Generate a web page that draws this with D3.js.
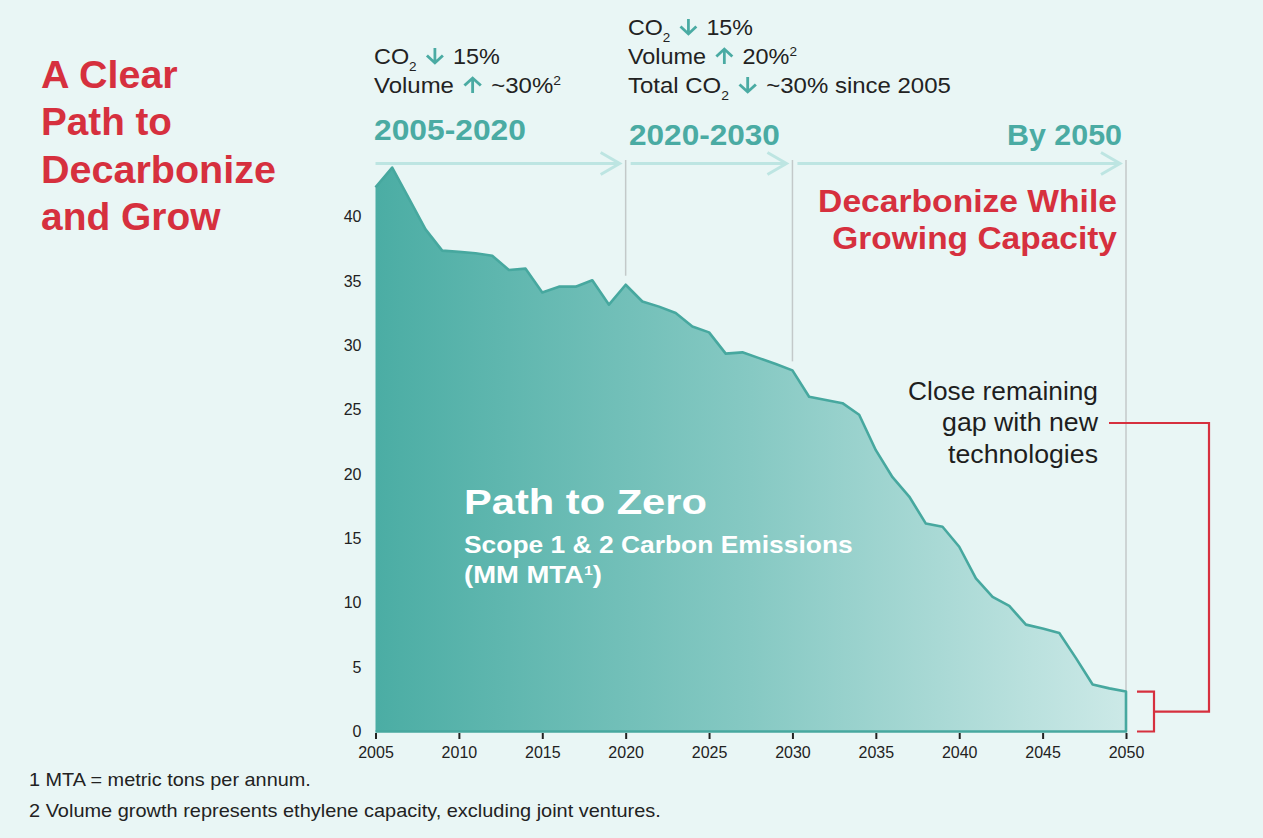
<!DOCTYPE html>
<html><head><meta charset="utf-8">
<script src="https://cdn.jsdelivr.net/npm/d3@7/dist/d3.min.js"></script>
<style>
html,body{margin:0;padding:0;background:#e9f6f5;}
svg{display:block;font-family:"Liberation Sans",Arial,Helvetica,sans-serif;}
</style></head><body>
<svg id="c" width="1263" height="838"></svg>
<script>
// ---- data ----
const years = [2005,2006,2007,2008,2009,2010,2011,2012,2013,2014,2015,2016,2017,2018,2019,
  2020,2021,2022,2023,2024,2025,2026,2027,2028,2029,2030,2031,2032,2033,2034,2035,2036,2037,
  2038,2039,2040,2041,2042,2043,2044,2045,2046,2047,2048,2049,2050];
const emissions = [42.26,43.8,41.4,39.0,37.35,37.25,37.15,36.95,35.85,35.95,34.1,34.55,34.55,35.05,33.15,
  34.7,33.4,33.0,32.5,31.45,31.0,29.35,29.45,29.0,28.55,28.05,26.0,25.75,25.5,24.6,21.85,19.75,18.25,
  16.15,15.9,14.35,11.9,10.45,9.75,8.3,8.0,7.65,5.7,3.65,3.35,3.1];
const xTicks = [2005,2010,2015,2020,2025,2030,2035,2040,2045,2050];
const yTicks = [0,5,10,15,20,25,30,35,40];
const phaseLabels = ["2005-2020","2020-2030","By 2050"];
const phaseStart = [2005,2020,2030];
const phaseEnd = [2020,2030,2050];
const markerYears = [2020,2030,2050];

const TEAL = "#4aaba3", RED = "#d6303e", DARK = "#222";
const svg = d3.select("#c");
svg.append("rect").attr("width",1263).attr("height",838).attr("fill","#e9f6f5");

const x = d3.scaleLinear().domain([2005,2050]).range([375.5,1126]);
const y = d3.scaleLinear().domain([0,40]).range([731.5,216.5]);
const pts = years.map((yr,i)=>[yr, emissions[i]]);
const valAt = yr => emissions[years.indexOf(yr)];

// gradient
const defs = svg.append("defs");
const grad = defs.append("linearGradient").attr("id","g1").attr("gradientUnits","userSpaceOnUse")
  .attr("x1",x(2005)).attr("x2",x(2050)).attr("y1",0).attr("y2",0);
grad.append("stop").attr("offset",0).attr("stop-color","#4badA4");
grad.append("stop").attr("offset",0.5).attr("stop-color","#86c9c3");
grad.append("stop").attr("offset",1).attr("stop-color","#cce9e7");

// area
const area = d3.area().x(d=>x(d[0])).y0(y(0)).y1(d=>y(d[1]));
svg.append("path").datum(pts).attr("d",area).attr("fill","url(#g1)");

// marker lines
markerYears.forEach(yr=>{
  const v = valAt(yr);
  svg.append("line").attr("x1",x(yr)).attr("x2",x(yr)).attr("y1",160)
    .attr("y2", yr===2050 ? y(v) : y(v)-9)
    .attr("stroke","#c3c9c9").attr("stroke-width",1.5);
});

// outline (top, right, bottom)
const outline = pts.concat([[2050,0],[2005,0]]);
svg.append("path").datum(outline)
  .attr("d", d3.line().x(d=>x(d[0])).y(d=>y(d[1])))
  .attr("fill","none").attr("stroke","#47a89f").attr("stroke-width",2.6).attr("stroke-linejoin","round");

// axes
const xAxis = svg.append("g").attr("transform",`translate(0,${y(0)+1.5})`)
  .call(d3.axisBottom(x).tickValues(xTicks).tickFormat(d3.format("d")).tickSize(6).tickSizeOuter(0).tickPadding(8));
xAxis.select(".domain").remove();
xAxis.selectAll(".tick line").attr("stroke",DARK).attr("stroke-width",2);
xAxis.selectAll("text").attr("font-size",16).attr("fill",DARK).attr("font-family","Liberation Sans, Arial, sans-serif");

const yAxis = svg.append("g").attr("transform",`translate(${x(2005)},0)`)
  .call(d3.axisLeft(y).tickValues(yTicks).tickSize(0).tickPadding(14));
yAxis.select(".domain").remove();
yAxis.selectAll("text").attr("font-size",16).attr("fill",DARK).attr("font-family","Liberation Sans, Arial, sans-serif");

// phase arrows
phaseStart.forEach((s,i)=>{
  const x0 = x(s) + (i===0?0:5), x1 = x(phaseEnd[i]) - 6, ya = 163.5;
  svg.append("path").attr("d",`M${x0},${ya}H${x1}M${x1-19},${ya-11}L${x1},${ya}L${x1-19},${ya+11}`)
    .attr("fill","none").attr("stroke","#bde5e2").attr("stroke-width",3).attr("stroke-linejoin","miter");
});

// text helper
function label(px, py, parts, o){
  const g = svg.append("g").attr("transform",`translate(${px},${py})`);
  const t = g.append("text").attr("x",0).attr("y",0)
    .attr("font-size",o.size).attr("font-weight",o.bold?"bold":"normal")
    .attr("fill",o.fill).attr("text-anchor",o.anchor||"start");
  let shift = 0;
  const arrows = [];
  parts.forEach(p=>{
    if (typeof p === "string") p = {t:p};
    const target = p.sub ? o.size*0.3 : p.sup ? -o.size*0.36 : 0;
    const ts = t.append("tspan").text(p.arrow ? "\u2003" : p.t).attr("dy", target - shift);
    shift = target;
    if (p.sub || p.sup) ts.attr("font-size", o.size*0.58);
    if (p.fill) ts.attr("fill", p.fill);
    if (p.arrow) arrows.push({ts, dir:p.arrow});
  });
  arrows.forEach(a=>{
    const n = a.ts.node();
    const s = n.getStartPositionOfChar(0).x, e = n.getEndPositionOfChar(0).x;
    const cx = (s+e)/2, h = 16, hw = 7.5;
    const d = a.dir === "down"
      ? `M${cx},${-h}V${-1.2}M${cx-hw},${-hw-1}L${cx},${-1}L${cx+hw},${-hw-1}`
      : `M${cx},${0}V${-h+1.2}M${cx-hw},${-h+hw+1}L${cx},${-h+1}L${cx+hw},${-h+hw+1}`;
    g.append("path").attr("d",d).attr("fill","none").attr("stroke",TEAL).attr("stroke-width",2.6);
  });
  if (o.w){
    const bw = t.node().getBBox().width;
    g.attr("transform",`translate(${px},${py}) scale(${o.w/bw},1)`);
  }
  return g;
}
const DN = {arrow:"down"}, UP = {arrow:"up"};
const ann = {size:22, fill:DARK};

// top annotations
label(374, 64, ["CO",{t:"2",sub:true}," ",DN," 15%"], {...ann, w:126});
label(374, 93, ["Volume ",UP," ~30%",{t:"2",sup:true}], {...ann, w:187});
label(628, 35, ["CO",{t:"2",sub:true}," ",DN," 15%"], {...ann, w:125});
label(628, 64, ["Volume ",UP," 20%",{t:"2",sup:true}], {...ann, w:169});
label(628, 93, ["Total CO",{t:"2",sub:true}," ",DN," ~30% since 2005"], {...ann, w:323});

// phase labels
label(374, 140, [phaseLabels[0]], {size:29, bold:true, fill:TEAL, w:152});
label(629, 145, [phaseLabels[1]], {size:29, bold:true, fill:TEAL, w:151});
label(1122, 145, [phaseLabels[2]], {size:29, bold:true, fill:TEAL, anchor:"end", w:115});

label(1117, 212, ["Decarbonize While"], {size:32, bold:true, fill:RED, anchor:"end", w:299});
label(1117, 249, ["Growing Capacity"], {size:32, bold:true, fill:RED, anchor:"end", w:285});

// title
label(41, 88, ["A Clear"], {size:38, bold:true, fill:RED, w:137});
label(41, 135, ["Path to"], {size:38, bold:true, fill:RED, w:131});
label(41, 183, ["Decarbonize"], {size:38, bold:true, fill:RED, w:235});
label(41, 230, ["and Grow"], {size:38, bold:true, fill:RED, w:180});

// in-chart labels
label(464, 514, ["Path to Zero"], {size:36, bold:true, fill:"#fff", w:243});
label(464, 553, ["Scope 1 & 2 Carbon Emissions"], {size:23, bold:true, fill:"#fff", w:389});
label(464, 583, ["(MM MTA",{t:"1",sup:true},")"], {size:23, bold:true, fill:"#fff", w:138});

// gap annotation
label(1098, 400, ["Close remaining"], {size:25, fill:"#1e1e1e", anchor:"end", w:190});
label(1098, 431, ["gap with new"], {size:25, fill:"#1e1e1e", anchor:"end", w:157});
label(1098, 463, ["technologies"], {size:25, fill:"#1e1e1e", anchor:"end", w:150});

// bracket
const gapTop = y(valAt(2050)), gapBot = y(0), gapMid = (gapTop+gapBot)/2, xe = x(2050);
svg.append("path").attr("d",`M${xe+11},${gapTop}H${xe+28}V${gapBot}H${xe+11}M${xe+28},${gapMid}H${xe+83}V423H1109`)
  .attr("fill","none").attr("stroke",RED).attr("stroke-width",2.2);

// footnotes
label(29, 786, ["1 MTA = metric tons per annum."], {size:18, fill:DARK, w:282});
label(29, 817, ["2 Volume growth represents ethylene capacity, excluding joint ventures."], {size:18, fill:DARK, w:632});
</script>
</body></html>
